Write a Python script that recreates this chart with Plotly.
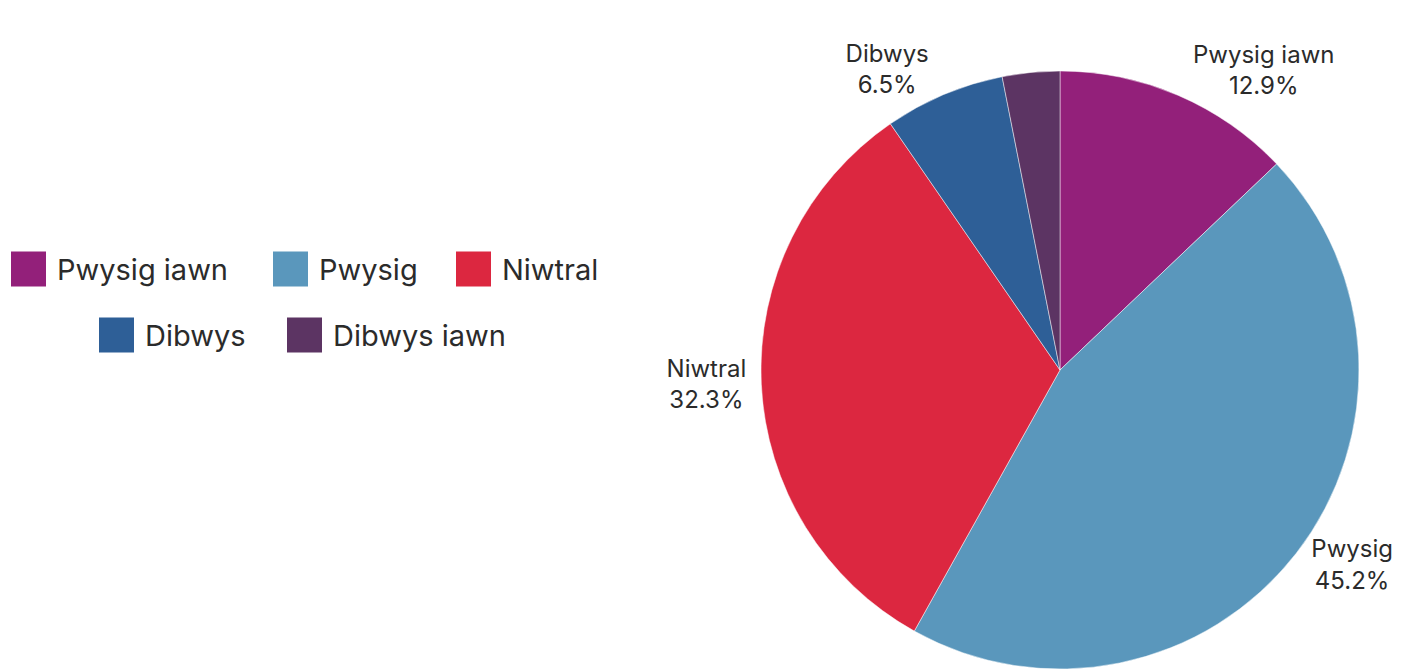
import plotly.graph_objects as go

# Survey answers and their shares (%)
categories = ["Pwysig iawn", "Pwysig", "Niwtral", "Dibwys", "Dibwys iawn"]
shares = [12.9, 45.2, 32.3, 6.5, 3.1]
show_label = [True, True, True, True, False]

colors = ["#93207a", "#5a97bc", "#dc2740", "#2e5f97", "#5c3463"]

W, H = 1408, 669
FONT = "Inter"
TEXT_COLOR = "#2b2b2b"

# Pie geometry in pixels
cx, cy, r = 1060, 370, 299

slice_text = [f"{c}<br>{v:.1f}%" if s else "" for c, v, s in zip(categories, shares, show_label)]

fig = go.Figure(
    go.Pie(
        labels=categories,
        values=shares,
        text=slice_text,
        textinfo="text",
        textposition="outside",
        sort=False,
        direction="clockwise",
        rotation=0,
        marker=dict(colors=colors, line=dict(color="rgba(255,255,255,0.6)", width=0.8)),
        textfont=dict(family=FONT, size=24, color=TEXT_COLOR),
        showlegend=False,
        hoverinfo="label+percent",
        domain=dict(
            x=[(cx - r) / W, (cx + r) / W],
            y=[1 - (cy + r) / H, 1 - (cy - r) / H],
        ),
        automargin=False,
    )
)

# Legend drawn as swatches plus text: two centred rows
legend_rows = [[0, 1, 2], [3, 4]]
row_center_y = [269, 335]
swatch_left = {0: 11, 1: 273, 2: 456, 3: 99, 4: 287}
sw = 35
gap = 9

shapes = []
annotations = []
for row, yc in zip(legend_rows, row_center_y):
    for i in row:
        x0 = swatch_left[i]
        shapes.append(
            dict(
                type="rect",
                xref="paper",
                yref="paper",
                x0=x0 / W,
                x1=(x0 + sw) / W,
                y0=1 - (yc + sw / 2) / H,
                y1=1 - (yc - sw / 2) / H,
                fillcolor=colors[i],
                line=dict(width=0),
            )
        )
        annotations.append(
            dict(
                text=categories[i],
                xref="paper",
                yref="paper",
                x=(x0 + sw + gap) / W,
                y=1 - yc / H,
                xanchor="left",
                yanchor="middle",
                showarrow=False,
                font=dict(family=FONT, size=29, color=TEXT_COLOR),
            )
        )

fig.update_layout(
    width=W,
    height=H,
    margin=dict(l=0, r=0, t=0, b=0),
    paper_bgcolor="white",
    plot_bgcolor="white",
    shapes=shapes,
    annotations=annotations,
    font=dict(family=FONT, color=TEXT_COLOR),
)

fig.write_html("out.html")
